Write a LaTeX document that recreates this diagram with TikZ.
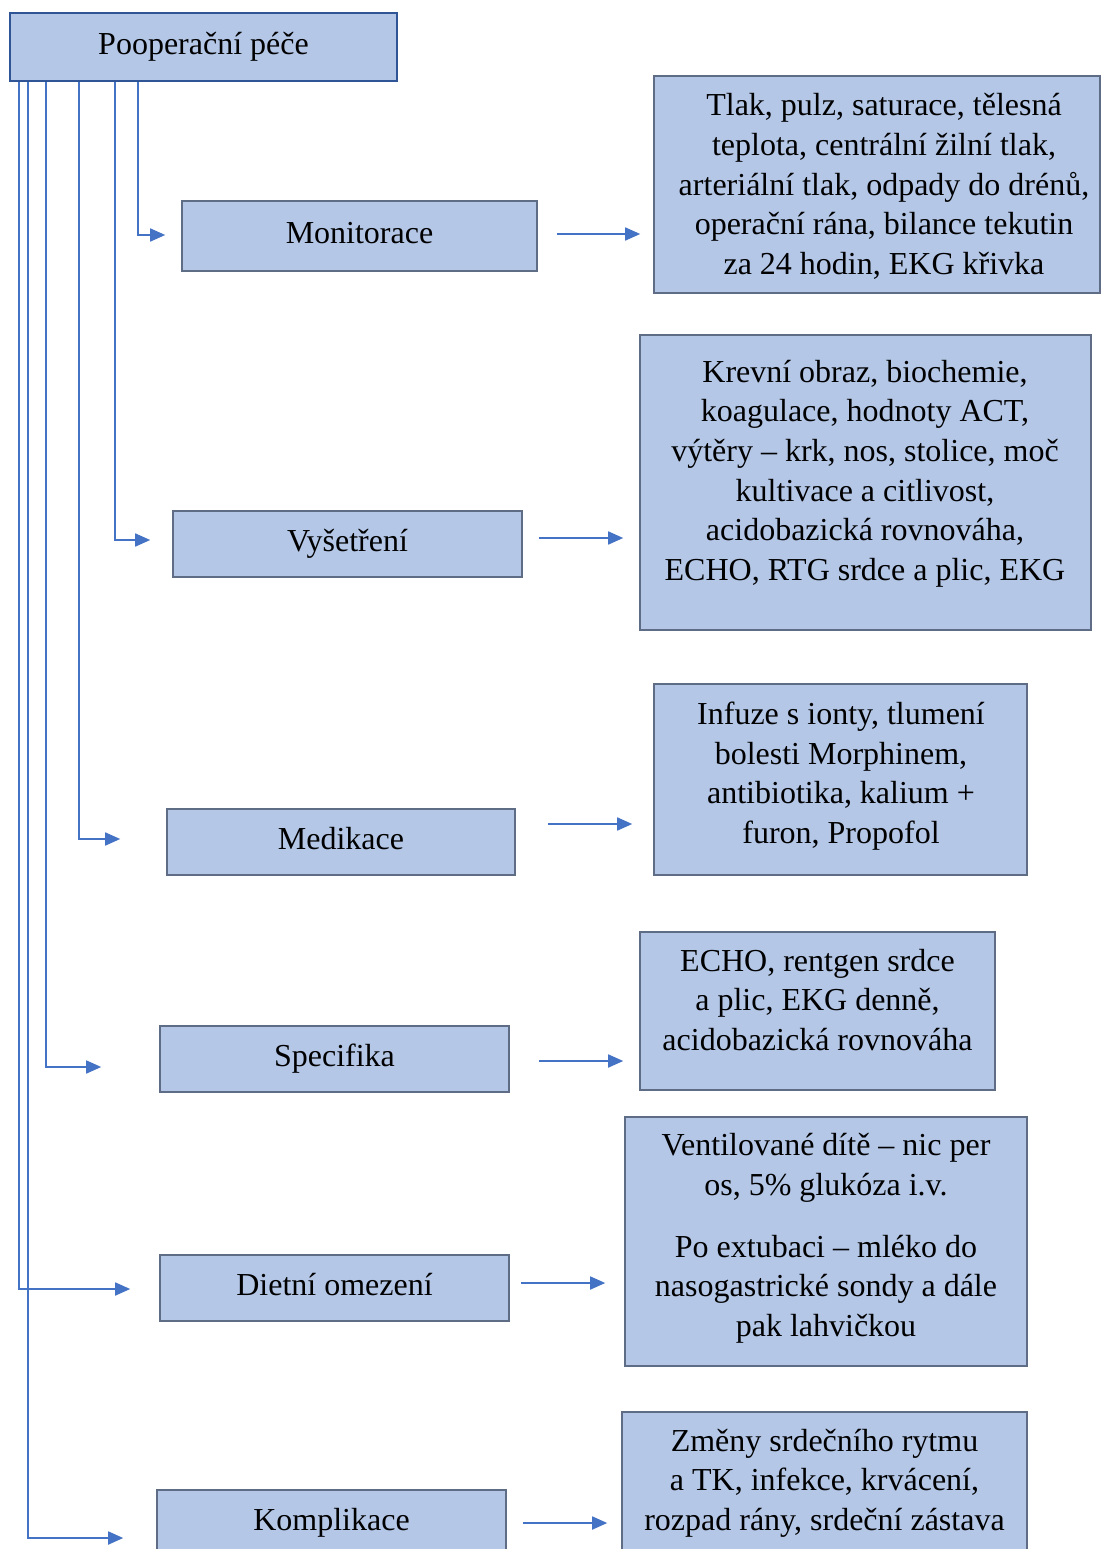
\documentclass[tikz,border=0pt]{standalone}
\usepackage{fontspec}
\setmainfont{Liberation Serif}
\usetikzlibrary{arrows.meta}
\definecolor{boxfill}{HTML}{B4C7E7}
\definecolor{boxline}{HTML}{5E6C86}
\definecolor{topline}{HTML}{2F5597}
\definecolor{arrcol}{HTML}{4472C4}
\tikzset{
  txt/.style={font=\fontsize{32}{39.7}\selectfont, inner sep=0pt},
  smallbox/.style={txt, draw=boxline, fill=boxfill, line width=1.6pt, text height=22pt, text depth=7pt},
  topbox/.style={smallbox, draw=topline, line width=2.6pt},
  bigbox/.style={draw=boxline, fill=boxfill, line width=1.6pt, inner sep=0pt},
  bodytext/.style={txt, align=center, anchor=base},
  arr/.style={draw=arrcol, line width=1.7pt, -{Triangle[length=15pt,width=13pt]}},
}
\begin{document}
\begin{tikzpicture}[x=1pt,y=-1pt]
\clip (0,0) rectangle (1101,1549);
\fill[white] (0,0) rectangle (1101,1549);

% left column boxes
\node[topbox, minimum width=387pt, minimum height=68pt] (top) at (203.5,47) {Pooperační péče};
\node[smallbox, minimum width=355pt, minimum height=70pt] (mon) at (359.5,236) {Monitorace};
\node[smallbox, minimum width=349pt, minimum height=66pt] (vys) at (347.5,544) {Vyšetření};
\node[smallbox, minimum width=348pt, minimum height=66pt] (med) at (341,842) {Medikace};
\node[smallbox, minimum width=349pt, minimum height=66pt] (spe) at (334.5,1059) {Specifika};
\node[smallbox, minimum width=349pt, minimum height=66pt] (die) at (334.5,1288) {Dietní omezení};
\node[smallbox, minimum width=349pt, minimum height=66pt] (kom) at (331.5,1523) {Komplikace};

% right column boxes
\node[bigbox, minimum width=446pt, minimum height=217pt] (r1) at (877,184.5) {};
\node[bigbox, minimum width=451pt, minimum height=295pt] (r2) at (865.5,482.5) {};
\node[bigbox, minimum width=373pt, minimum height=191pt] (r3) at (840.5,779.5) {};
\node[bigbox, minimum width=355pt, minimum height=158pt] (r4) at (817.5,1011) {};
\node[bigbox, minimum width=402pt, minimum height=249pt] (r5) at (826,1241.5) {};
\node[bigbox, minimum width=405pt, minimum height=150pt] (r6) at (824.5,1487) {};

% texts, anchored at the baseline of their last line
\node[bodytext] (t1) at (884,274.5) {Tlak, pulz, saturace, tělesná\\teplota, centrální žilní tlak,\\arteriální tlak, odpady do drénů,\\operační rána, bilance tekutin\\za 24 hodin, EKG křivka};
\node[bodytext] (t2) at (865,580.5) {Krevní obraz, biochemie,\\koagulace, hodnoty ACT,\\výtěry – krk, nos, stolice, moč\\kultivace a citlivost,\\acidobazická rovnováha,\\ECHO, RTG srdce a plic, EKG};
\node[bodytext] (t3) at (841,843.5) {Infuze s ionty, tlumení\\bolesti Morphinem,\\antibiotika, kalium +\\furon, Propofol};
\node[bodytext] (t4) at (817.5,1050.5) {ECHO, rentgen srdce\\a plic, EKG denně,\\acidobazická rovnováha};
\node[bodytext] (t5) at (826,1336.5) {Ventilované dítě – nic per\\os, 5\% glukóza i.v.\\[22pt]Po extubaci – mléko do\\nasogastrické sondy a dále\\pak lahvičkou};
\node[bodytext] (t6) at (824.5,1530.5) {Změny srdečního rytmu\\a TK, infekce, krvácení,\\rozpad rány, srdeční zástava};

% connectors from the top box
\draw[arr] ([xshift=129pt]top.south west) |- ([xshift=-16pt,yshift=1pt]mon.west);
\draw[arr] ([xshift=106pt]top.south west) |- ([xshift=-22pt,yshift=4pt]vys.west);
\draw[arr] ([xshift=70pt]top.south west) |- ([xshift=-46pt,yshift=3pt]med.west);
\draw[arr] ([xshift=37pt]top.south west) |- ([xshift=-58pt,yshift=-8pt]spe.west);
\draw[arr] ([xshift=10pt]top.south west) |- ([xshift=-29pt,yshift=-1pt]die.west);
\draw[arr] ([xshift=19pt]top.south west) |- ([xshift=-33pt,yshift=-15pt]kom.west);

% connectors to the detail boxes
\draw[arr] ([xshift=19pt,yshift=2pt]mon.east) -- ([xshift=-13pt,yshift=2pt]mon.east -| r1.west);
\draw[arr] ([xshift=16pt,yshift=6pt]vys.east) -- ([xshift=-16pt,yshift=6pt]vys.east -| r2.west);
\draw[arr] ([xshift=32pt,yshift=18pt]med.east) -- ([xshift=-21pt,yshift=18pt]med.east -| r3.west);
\draw[arr] ([xshift=29pt,yshift=-2pt]spe.east) -- ([xshift=-16pt,yshift=-2pt]spe.east -| r4.west);
\draw[arr] ([xshift=11pt,yshift=5pt]die.east) -- ([xshift=-19pt,yshift=5pt]die.east -| r5.west);
\draw[arr] ([xshift=16pt]kom.east) -- ([xshift=-14pt]kom.east -| r6.west);
\end{tikzpicture}
\end{document}
